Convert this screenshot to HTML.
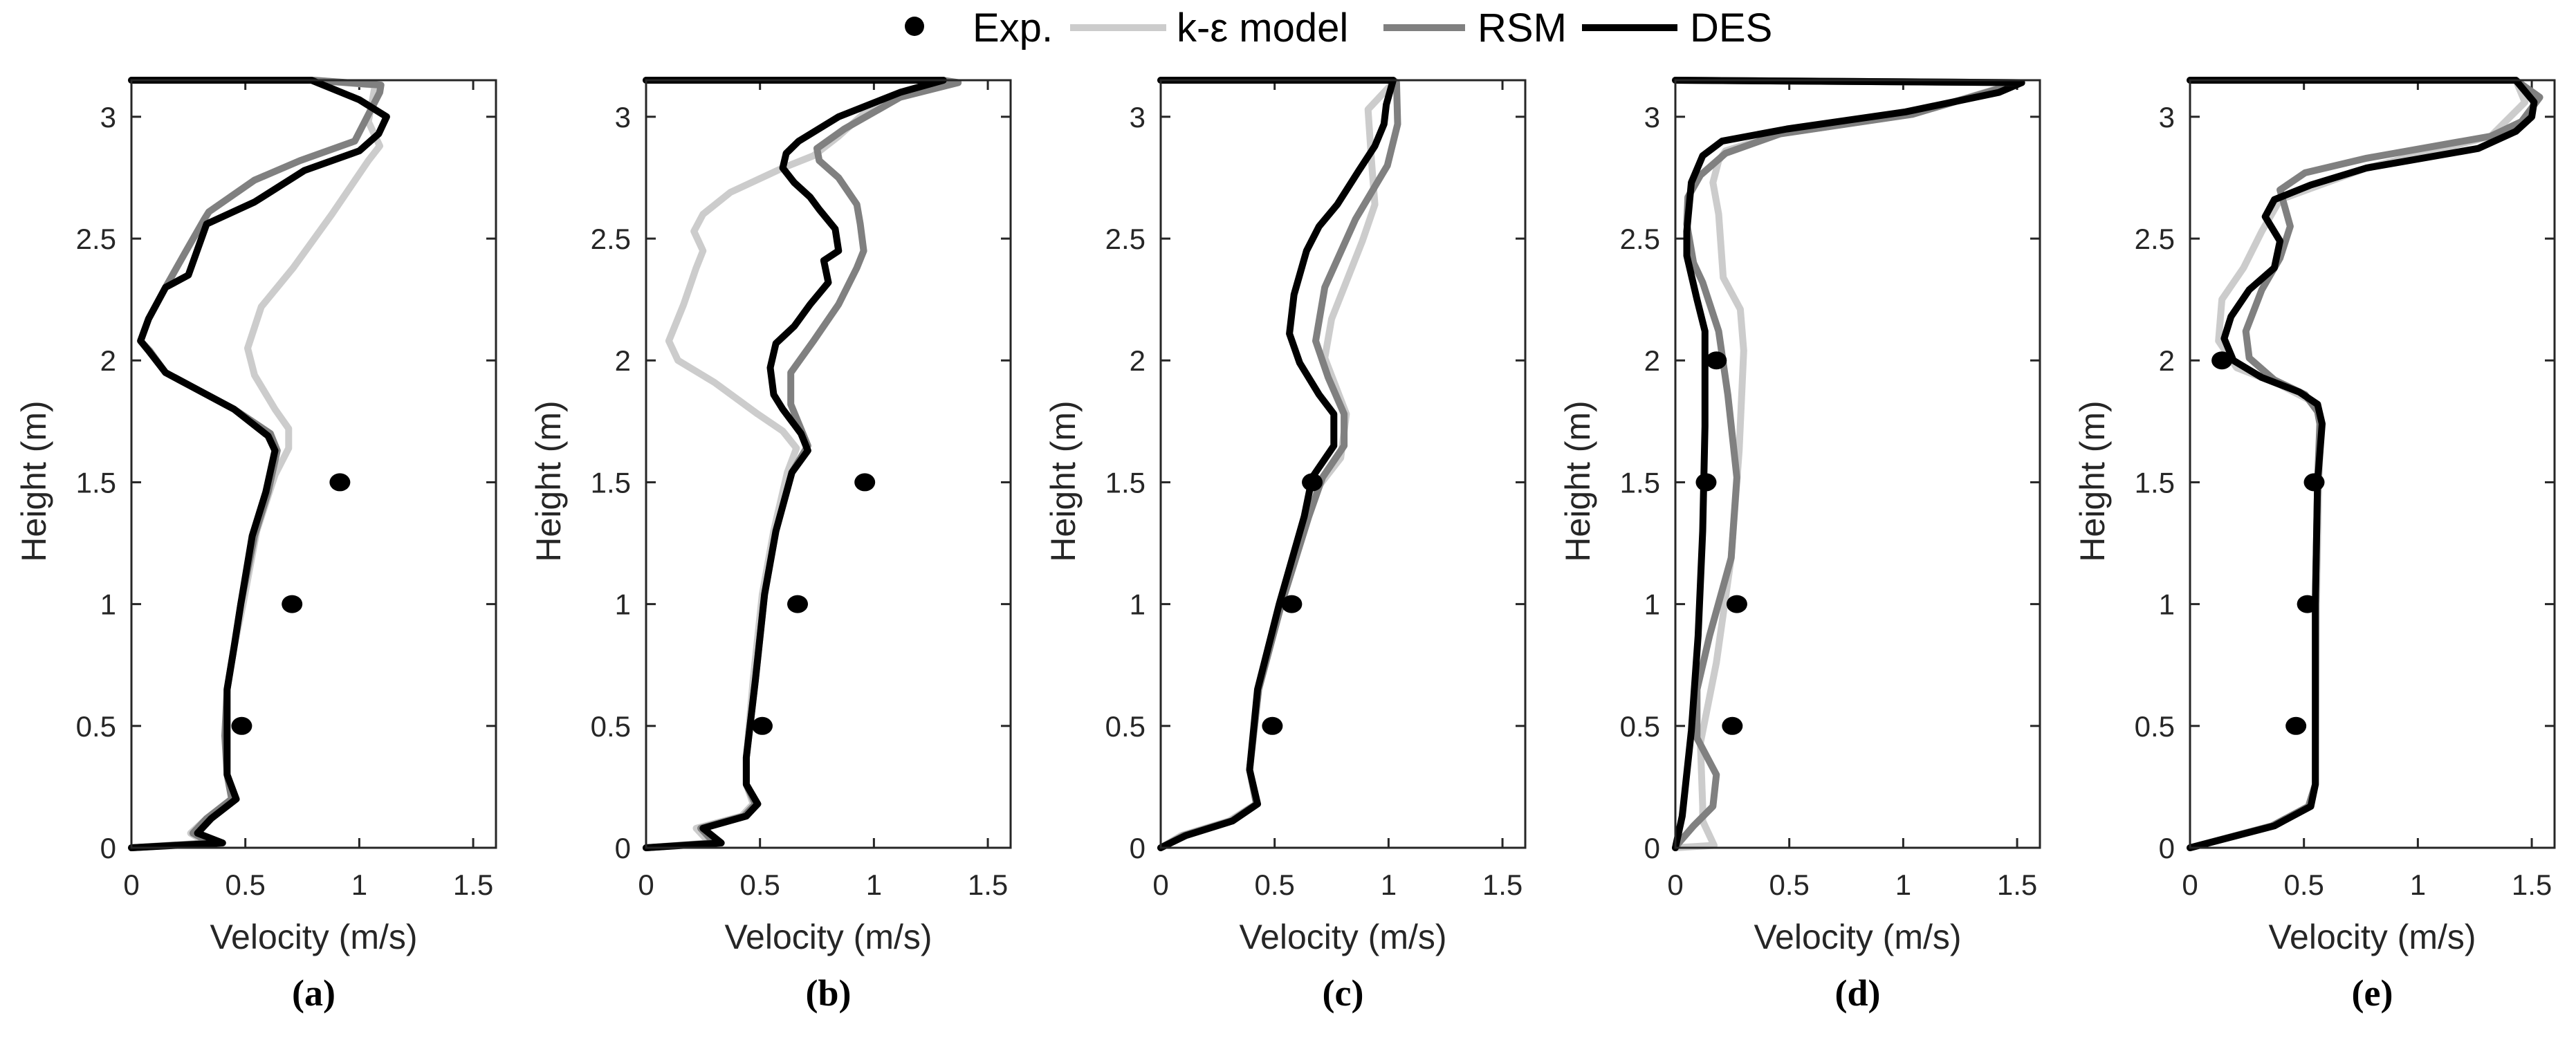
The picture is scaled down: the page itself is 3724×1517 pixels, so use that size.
<!DOCTYPE html>
<html><head><meta charset="utf-8"><style>
html,body{margin:0;padding:0;background:#fff;}
svg{display:block;}
text{font-family:"Liberation Sans",Arial,sans-serif;fill:#262626;}
.leg{font-family:"Liberation Sans Narrow","Liberation Sans",sans-serif;fill:#000;font-size:58px;}
</style></head><body>
<svg id="chart" width="3724" height="1517" viewBox="0 0 3724 1517" xmlns="http://www.w3.org/2000/svg">
<g>
<circle cx="1322" cy="38" r="14" fill="#000"/>
<text class="leg" x="1406" y="60">Exp.</text>
<line x1="1547" y1="40" x2="1686" y2="40" stroke="#cccccc" stroke-width="10"/>
<text class="leg" x="1701" y="60">k-ε model</text>
<line x1="2000" y1="40" x2="2118" y2="40" stroke="#808080" stroke-width="10"/>
<text class="leg" x="2136" y="60">RSM</text>
<line x1="2287" y1="40" x2="2425" y2="40" stroke="#000" stroke-width="10"/>
<text class="leg" x="2443" y="60">DES</text>
</g>
</svg>
<script>
// ---- data ----
const panelLabels = ["(a)","(b)","(c)","(d)","(e)"];
const xTicks = [0,0.5,1,1.5];
const xTickLabels = ["0","0.5","1","1.5"];
const yTicks = [0,0.5,1,1.5,2,2.5,3];
const yTickLabels = ["0","0.5","1","1.5","2","2.5","3"];
const expHeights = [0.5,1.0,1.5,2.0];
// Exp. velocities per panel (null = not measured)
const expA = [0.484,0.705,0.915,null];
const expB = [0.51,0.665,0.96,null];
const expC = [0.49,0.575,0.665,null];
const expD = [0.25,0.27,0.135,0.18];
const expE = [0.465,0.515,0.545,0.14];
// series: [velocity, height] pairs
const desA = [[0,3.15],[0.79,3.15],[1.0,3.07],[1.12,3.0],[1.085,2.93],[1.0,2.86],[0.76,2.78],[0.54,2.65],[0.33,2.56],[0.25,2.35],[0.15,2.3],[0.075,2.17],[0.04,2.08],[0.075,2.04],[0.15,1.95],[0.27,1.89],[0.45,1.8],[0.6,1.69],[0.63,1.63],[0.59,1.46],[0.53,1.28],[0.48,1.0],[0.45,0.82],[0.42,0.65],[0.42,0.46],[0.42,0.3],[0.46,0.2],[0.35,0.12],[0.29,0.06],[0.4,0.02],[0,0.0]];
const rsmA = [[0,3.15],[0.8,3.15],[1.095,3.13],[1.09,3.1],[0.98,2.9],[0.74,2.82],[0.54,2.74],[0.34,2.61],[0.32,2.58],[0.24,2.45],[0.15,2.3],[0.075,2.17],[0.04,2.08],[0.08,2.04],[0.15,1.95],[0.27,1.89],[0.45,1.8],[0.61,1.7],[0.64,1.63],[0.6,1.46],[0.54,1.28],[0.48,1.0],[0.45,0.82],[0.42,0.65],[0.41,0.46],[0.42,0.3],[0.44,0.2],[0.33,0.12],[0.27,0.06],[0.35,0.02],[0,0.0]];
const keA = [[0,3.15],[0.8,3.15],[1.07,3.13],[1.04,2.98],[1.09,2.88],[1.04,2.82],[0.88,2.6],[0.71,2.38],[0.57,2.22],[0.51,2.05],[0.54,1.94],[0.63,1.8],[0.69,1.72],[0.69,1.64],[0.63,1.53],[0.55,1.3],[0.49,1.0],[0.45,0.82],[0.42,0.65],[0.42,0.46],[0.42,0.3],[0.45,0.2],[0.33,0.12],[0.26,0.06],[0.33,0.02],[0,0.0]];
const desB = [[0,3.15],[1.305,3.15],[1.115,3.1],[0.845,3.0],[0.67,2.9],[0.615,2.85],[0.6,2.79],[0.65,2.73],[0.72,2.67],[0.76,2.62],[0.83,2.54],[0.845,2.45],[0.78,2.41],[0.8,2.32],[0.72,2.23],[0.65,2.14],[0.57,2.07],[0.545,1.97],[0.56,1.86],[0.6,1.8],[0.68,1.7],[0.71,1.63],[0.64,1.54],[0.57,1.3],[0.52,1.04],[0.48,0.69],[0.44,0.37],[0.44,0.26],[0.49,0.18],[0.44,0.13],[0.25,0.08],[0.33,0.02],[0,0.0]];
const rsmB = [[0,3.15],[1.3,3.15],[1.37,3.14],[1.115,3.08],[0.87,2.95],[0.75,2.87],[0.76,2.82],[0.845,2.75],[0.925,2.64],[0.94,2.56],[0.955,2.45],[0.925,2.38],[0.845,2.23],[0.735,2.08],[0.635,1.95],[0.635,1.82],[0.71,1.65],[0.64,1.54],[0.57,1.3],[0.52,1.04],[0.48,0.69],[0.44,0.37],[0.44,0.26],[0.48,0.18],[0.43,0.13],[0.24,0.08],[0.3,0.02],[0,0.0]];
const keB = [[0,3.15],[1.3,3.15],[1.305,3.14],[1.0,3.05],[0.845,2.92],[0.735,2.84],[0.6,2.79],[0.37,2.69],[0.25,2.6],[0.21,2.53],[0.25,2.45],[0.22,2.38],[0.165,2.23],[0.1,2.08],[0.14,2.0],[0.3,1.91],[0.49,1.78],[0.6,1.71],[0.66,1.64],[0.62,1.54],[0.56,1.3],[0.51,1.04],[0.47,0.69],[0.44,0.37],[0.44,0.26],[0.47,0.18],[0.42,0.13],[0.22,0.08],[0.28,0.02],[0,0.0]];
const desC = [[0,3.15],[1.02,3.15],[0.99,3.05],[0.98,2.97],[0.94,2.88],[0.87,2.78],[0.775,2.64],[0.695,2.55],[0.64,2.45],[0.585,2.27],[0.565,2.11],[0.61,1.99],[0.695,1.86],[0.76,1.78],[0.76,1.65],[0.665,1.52],[0.63,1.36],[0.52,1.0],[0.425,0.65],[0.39,0.32],[0.425,0.18],[0.315,0.11],[0.11,0.05],[0,0.0]];
const rsmC = [[0,3.15],[1.02,3.15],[1.035,3.14],[1.04,2.97],[0.995,2.8],[0.855,2.58],[0.72,2.3],[0.68,2.08],[0.735,1.93],[0.805,1.78],[0.805,1.65],[0.71,1.52],[0.65,1.36],[0.53,1.0],[0.43,0.65],[0.39,0.32],[0.42,0.18],[0.31,0.11],[0.1,0.05],[0,0.0]];
const keC = [[0,3.15],[1.02,3.15],[1.02,3.14],[0.91,3.03],[0.925,2.82],[0.94,2.64],[0.885,2.49],[0.75,2.17],[0.72,2.01],[0.815,1.78],[0.79,1.6],[0.69,1.48],[0.64,1.36],[0.53,1.0],[0.43,0.65],[0.39,0.32],[0.42,0.18],[0.3,0.11],[0.09,0.05],[0,0.0]];
const desD = [[0,3.15],[1.52,3.14],[1.42,3.1],[1.01,3.02],[0.49,2.95],[0.205,2.9],[0.12,2.84],[0.07,2.73],[0.05,2.53],[0.05,2.43],[0.095,2.25],[0.13,2.12],[0.13,1.73],[0.12,1.3],[0.1,0.87],[0.07,0.48],[0.03,0.13],[0,0.0]];
const rsmD = [[0,3.15],[1.51,3.14],[1.04,3.01],[0.46,2.93],[0.22,2.85],[0.11,2.76],[0.055,2.67],[0.05,2.56],[0.08,2.4],[0.12,2.32],[0.19,2.12],[0.23,1.86],[0.27,1.52],[0.245,1.19],[0.15,0.87],[0.095,0.65],[0.095,0.45],[0.18,0.3],[0.165,0.17],[0.08,0.09],[0.015,0.02],[0,0.0]];
const keD = [[0,3.15],[1.5,3.14],[1.04,3.01],[0.46,2.93],[0.22,2.86],[0.19,2.82],[0.165,2.73],[0.19,2.6],[0.21,2.34],[0.285,2.21],[0.3,2.04],[0.28,1.63],[0.245,1.19],[0.18,0.76],[0.11,0.43],[0.12,0.17],[0.12,0.11],[0.17,0.01],[0,0.0]];
const desE = [[0,3.15],[1.43,3.15],[1.51,3.06],[1.5,3.0],[1.43,2.94],[1.265,2.87],[0.775,2.79],[0.53,2.72],[0.37,2.66],[0.33,2.59],[0.395,2.49],[0.37,2.38],[0.26,2.29],[0.18,2.18],[0.15,2.09],[0.19,2.0],[0.315,1.93],[0.48,1.87],[0.56,1.82],[0.58,1.74],[0.56,1.5],[0.55,1.0],[0.55,0.26],[0.53,0.17],[0.37,0.09],[0.165,0.04],[0,0.0]];
const rsmE = [[0,3.15],[1.43,3.15],[1.535,3.08],[1.455,2.98],[1.32,2.92],[0.775,2.83],[0.505,2.77],[0.395,2.7],[0.44,2.55],[0.395,2.42],[0.315,2.29],[0.245,2.12],[0.26,2.01],[0.37,1.92],[0.505,1.86],[0.56,1.79],[0.57,1.74],[0.56,1.5],[0.55,1.0],[0.55,0.26],[0.52,0.17],[0.36,0.09],[0.16,0.04],[0,0.0]];
const keE = [[0,3.15],[1.43,3.15],[1.47,3.06],[1.32,2.92],[0.775,2.79],[0.395,2.66],[0.315,2.53],[0.235,2.38],[0.14,2.25],[0.125,2.08],[0.205,1.97],[0.395,1.9],[0.56,1.82],[0.575,1.74],[0.565,1.5],[0.555,1.0],[0.55,0.26],[0.52,0.17],[0.36,0.09],[0.16,0.04],[0,0.0]];

const panelsKe = [keA,keB,keC,keD,keE];
const panelsRsm = [rsmA,rsmB,rsmC,rsmD,rsmE];
const panelsDes = [desA,desB,desC,desD,desE];
const panelsExp = [expA,expB,expC,expD,expE];

// ---- layout ----
const NS = "http://www.w3.org/2000/svg";
const svg = document.getElementById("chart");
const PW = 527, TOP = 116, BOT = 1226, XMAX = 1.6, YMAX = 3.15;
function mk(tag, attrs, parent){ const e=document.createElementNS(NS,tag); for(const k in attrs) e.setAttribute(k,attrs[k]); parent.appendChild(e); return e; }
function xs(p, v){ return 190 + p*744 + v/XMAX*PW; }
function ys(h){ return BOT - h/YMAX*(BOT-TOP); }

for(let p=0;p<5;p++){
  const L = 190 + p*744, R = L+PW;
  const g = mk("g",{},svg);
  
  
  const cp = mk("clipPath",{id:"clip"+p},g);
  mk("rect",{x:L-6,y:TOP-8,width:PW+12,height:BOT-TOP+14},cp);
  for(let i=0;i<xTicks.length;i++){
    const x = xs(p,xTicks[i]);
    const t1 = mk("line",{x1:x,y1:BOT,x2:x,y2:BOT-14,stroke:"#262626","stroke-width":3},g);
    
    
    const t2 = mk("line",{x1:x,y1:TOP,x2:x,y2:TOP+14,stroke:"#262626","stroke-width":3},g);
    
    
    const tl = mk("text",{x:x,y:1294,"font-size":42,"text-anchor":"middle"},g);
    tl.textContent = xTickLabels[i];
    
    
  }
  for(let i=0;i<yTicks.length;i++){
    const y = ys(yTicks[i]);
    const t1 = mk("line",{x1:L,y1:y,x2:L+14,y2:y,stroke:"#262626","stroke-width":3},g);
    
    
    const t2 = mk("line",{x1:R,y1:y,x2:R-14,y2:y,stroke:"#262626","stroke-width":3},g);
    
    
    const tl = mk("text",{x:L-22,y:y+15,"font-size":42,"text-anchor":"end"},g);
    tl.textContent = yTickLabels[i];
    
    
  }
  const series = [[panelsKe[p],"#cccccc","ke-curve"],[panelsRsm[p],"#808080","rsm-curve"],[panelsDes[p],"#000000","des-curve"]];
  for(const s of series){
    const pts = s[0].map(q=>xs(p,q[0]).toFixed(1)+","+ys(q[1]).toFixed(1)).join(" ");
    const pl = mk("polyline",{points:pts,fill:"none",stroke:s[1],"stroke-width":10,"stroke-linejoin":"round","stroke-linecap":"round","clip-path":"url(#clip"+p+")"},g);
    
    
  }
  const ev = panelsExp[p];
  for(let i=0;i<expHeights.length;i++){
    if(ev[i]===null) continue;
    const c = mk("ellipse",{cx:xs(p,ev[i]),cy:ys(expHeights[i]),rx:15,ry:13,fill:"#000"},g);
    
    
  }
  const box = mk("rect",{x:L,y:TOP,width:PW,height:BOT-TOP,fill:"none",stroke:"#262626","stroke-width":3},g);
  
  
  const xl = mk("text",{x:L+PW/2,y:1372,"font-size":50,"text-anchor":"middle"},g);
  xl.textContent = "Velocity (m/s)";
  
  
  const yl = mk("text",{x:0,y:0,"font-size":50,"text-anchor":"middle",transform:"translate("+(L-124)+",696) rotate(-90)"},g);
  yl.textContent = "Height (m)";
  
  
  const pl2 = mk("text",{x:L+PW/2,y:1454,"font-size":54,"text-anchor":"middle","font-weight":"bold",style:"font-family:'Liberation Serif',serif;fill:#000"},g);
  pl2.textContent = panelLabels[p];
  
  
}
</script>
</body></html>
